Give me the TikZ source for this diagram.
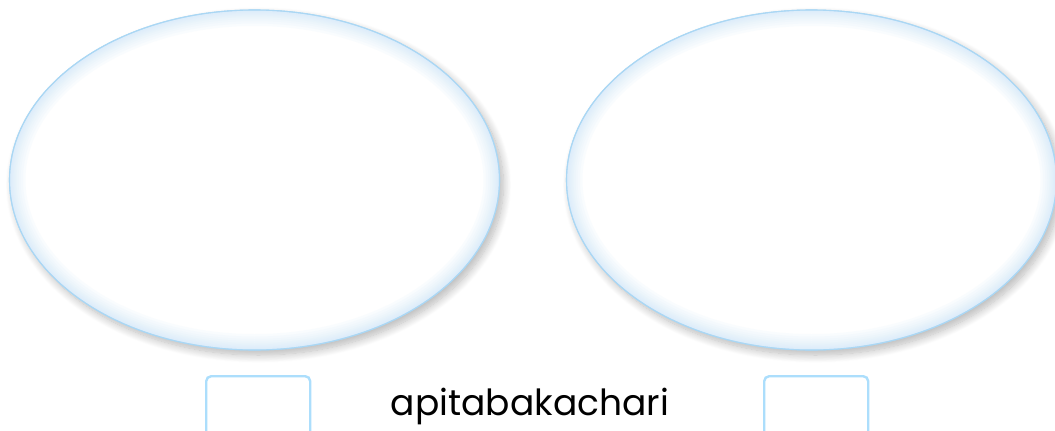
\documentclass[tikz,border=0pt]{standalone}
\usepackage{fontspec}
\setmainfont{Poppins}
\usetikzlibrary{shapes.geometric,shadows.blur}
\definecolor{edgeblue}{RGB}{170,215,244}
\definecolor{glowblue}{RGB}{205,230,250}
\definecolor{boxblue}{RGB}{172,222,252}
\tikzset{
  bubble/.style={ellipse, draw=edgeblue, line width=1.1pt, fill=white,
    minimum width=490pt, minimum height=340pt, inner sep=0pt,
    blur shadow={shadow xshift=4pt, shadow yshift=-5pt, shadow blur steps=12, shadow blur radius=8pt, shadow opacity=28}},
  glow/.style={draw=glowblue, opacity=0.1},
  answerbox/.style={draw=boxblue, line width=2.4pt, rounded corners=5pt, fill=white,
    minimum width=104pt, minimum height=60pt, inner sep=0pt},
  word/.style={font=\fontsize{36}{40}\selectfont, inner sep=0pt}
}
\begin{document}
\begin{tikzpicture}[x=1pt,y=-1pt]
\useasboundingbox (0,0) rectangle (1055,431);
\node[bubble] (left) at (254.5,180) {};
\node[bubble] (right) at (811.5,180) {};
\foreach \e in {left,right}{
  \begin{scope}
    \clip (\e.center) ellipse [x radius=245pt, y radius=170pt];
    \foreach \w in {32,27,22,18,14,11,8,5,3}{
      \draw[glow, line width=\w pt] (\e.center) ellipse [x radius=245pt, y radius=170pt];
    }
  \end{scope}
  \draw[edgeblue, line width=1.1pt] (\e.center) ellipse [x radius=245pt, y radius=170pt];
}
\node[answerbox, anchor=north west] (lbox) at (205,375) {};
\node[answerbox, anchor=north west] (rbox) at (763,375) {};
\node[word, anchor=base] (w) at (530,415) {apitabakachari};
\end{tikzpicture}
\end{document}
